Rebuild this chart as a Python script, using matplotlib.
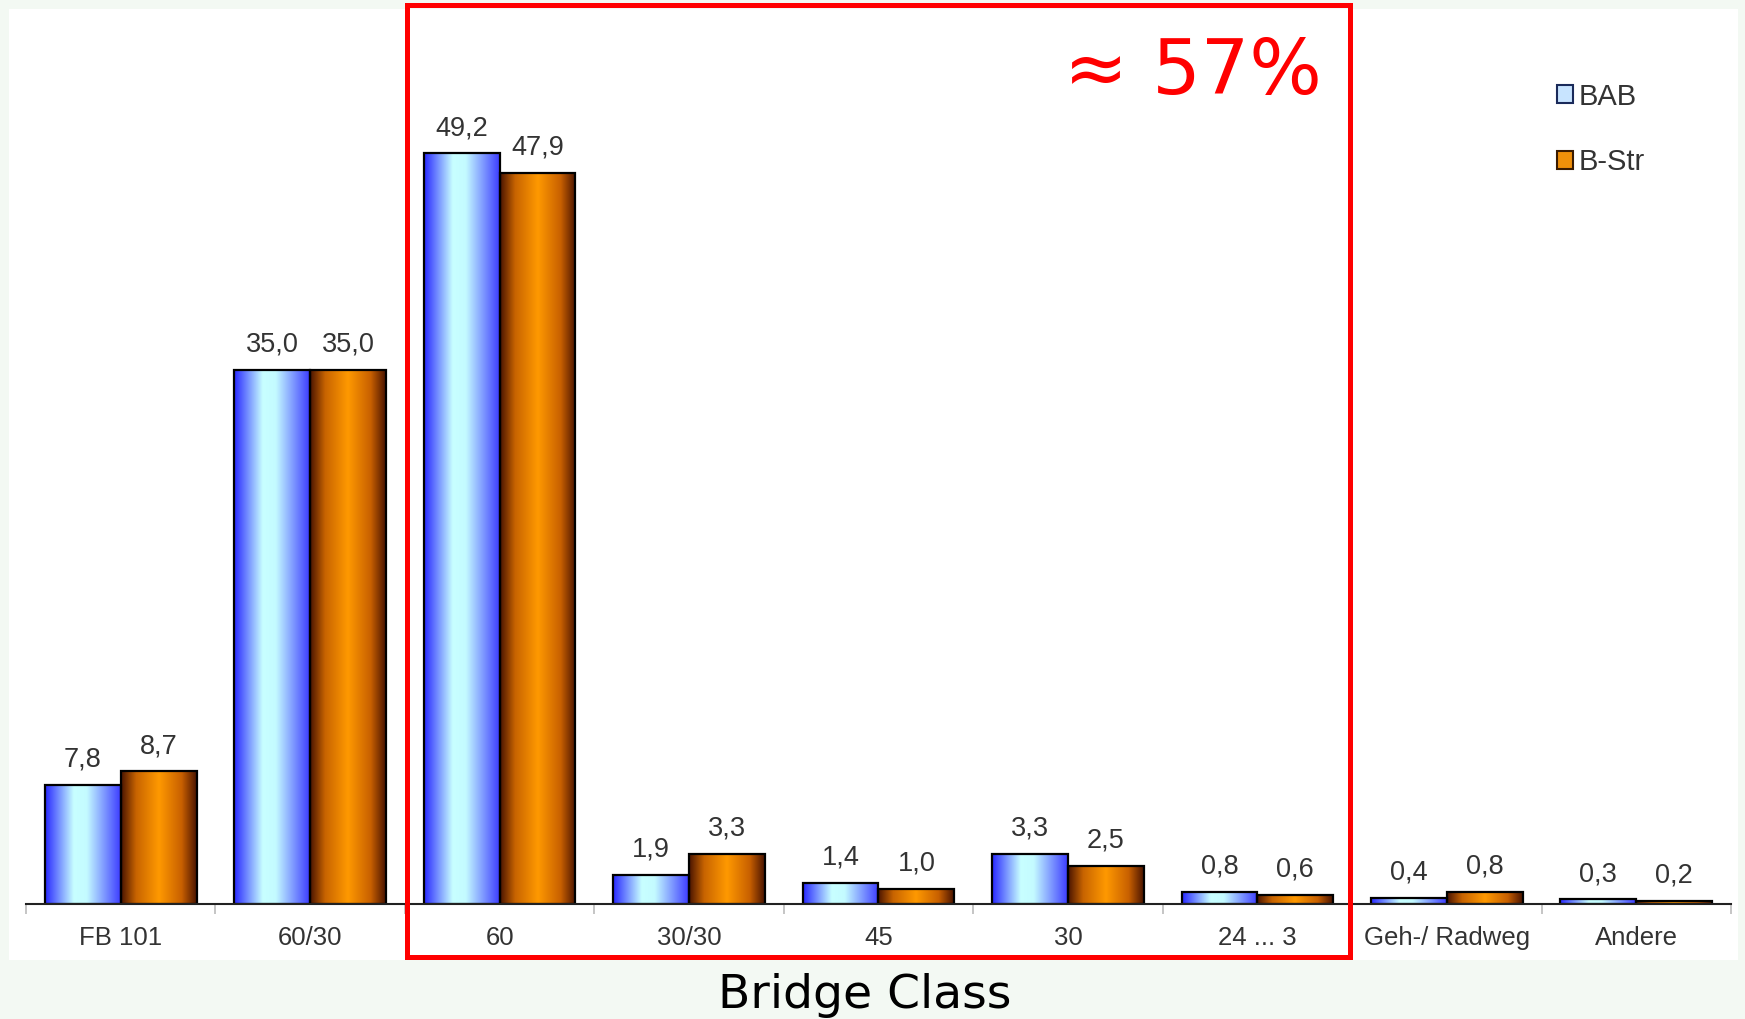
import numpy as np
import matplotlib.pyplot as plt
from matplotlib.colors import LinearSegmentedColormap
from matplotlib.patches import Patch, Rectangle

categories = ["FB 101", "60/30", "60", "30/30", "45", "30", "24 ... 3", "Geh-/ Radweg", "Andere"]
bab = [7.8, 35.0, 49.2, 1.9, 1.4, 3.3, 0.8, 0.4, 0.3]
bstr = [8.7, 35.0, 47.9, 3.3, 1.0, 2.5, 0.6, 0.8, 0.2]
series_names = ["BAB", "B-Str"]
share_text = "≈ 57%"
x_title = "Bridge Class"

W, H = 1745, 1019
BG = "#f3f9f3"
TEXT = "#333333"

# horizontal shading across each bar
blue_cmap = LinearSegmentedColormap.from_list(
    "blue_bar", [(0.0, "#2828ff"), (0.38, "#c8ffff"), (0.55, "#c4fbff"), (1.0, "#3c3cff")])
orange_cmap = LinearSegmentedColormap.from_list(
    "orange_bar", [(0.0, "#4a1400"), (0.2, "#c86400"), (0.5, "#ff9900"), (0.8, "#c86000"), (1.0, "#4a1400")])


def shade_bars(ax, bars, cmap):
    grad = cmap(np.linspace(0, 1, 256))[None, :, :3]
    for p in bars.patches:
        x0, w, h = p.get_x(), p.get_width(), p.get_height()
        ax.imshow(grad, extent=[x0, x0 + w, 0, h], aspect="auto",
                  interpolation="bilinear", zorder=2)


fig = plt.figure(figsize=(W / 100, H / 100), dpi=100, facecolor=BG)

# white slide panel
fig.patches.append(Rectangle((9 / W, 1 - 960 / H), (1738 - 9) / W, (960 - 9) / H,
                             transform=fig.transFigure, facecolor="white",
                             edgecolor="none", zorder=-5))

ax = fig.add_axes([26 / W, 1 - 904 / H, 1705 / W, (904 - 12) / H])
ax.patch.set_alpha(0)

x = np.arange(len(categories))
w = 0.40
b1 = ax.bar(x - w / 2, bab, w, facecolor="none", edgecolor="black", lw=1.6, zorder=3)
b2 = ax.bar(x + w / 2, bstr, w, facecolor="none", edgecolor="black", lw=1.6, zorder=3)
shade_bars(ax, b1, blue_cmap)
shade_bars(ax, b2, orange_cmap)

for bars in (b1, b2):
    for p in bars.patches:
        v = p.get_height()
        ax.annotate(f"{v:.1f}".replace(".", ","), (p.get_x() + p.get_width() / 2, v),
                    xytext=(0, 13), textcoords="offset points", ha="center",
                    va="baseline", fontsize=19.5, color=TEXT, family="Liberation Sans")

ax.set_xlim(-0.5, len(categories) - 0.5)
ax.set_ylim(0, (904 - 12) / 15.26)

for side in ("top", "right", "left"):
    ax.spines[side].set_visible(False)
ax.spines["bottom"].set_color("#222222")
ax.spines["bottom"].set_linewidth(1.5)
ax.spines["bottom"].set_zorder(4)
ax.set_yticks([])

ax.set_xticks(x)
ax.set_xticklabels(categories, fontsize=18.5, color=TEXT, family="Liberation Sans")
ax.tick_params(axis="x", which="major", length=0, pad=16)
ax.set_xticks(np.arange(-0.5, len(categories)), minor=True)
ax.tick_params(axis="x", which="minor", length=7, color="#bbbbbb", width=1.2)

handles = [Patch(facecolor="#c8e4ff", edgecolor="#1a2a5a", lw=1.5),
           Patch(facecolor="#f0900a", edgecolor="#3a1a00", lw=1.5)]
ax.legend(handles, series_names, loc="upper left", bbox_to_anchor=(1542 / W, 1 - 68 / H),
          bbox_transform=fig.transFigure, frameon=False, borderpad=0,
          handlelength=0.55, handleheight=0.55, handletextpad=0.2, labelspacing=1.3,
          prop={"family": "Liberation Sans", "size": 21}, labelcolor=TEXT)

# highlighted group of classes
fig.patches.append(Rectangle((407 / W, 1 - 957 / H), 943 / W, 952 / H,
                             transform=fig.transFigure, facecolor="none",
                             edgecolor="#ff0000", lw=3.6, zorder=10))
fig.text(1322 / W, 1 - 94 / H, share_text, ha="right", va="baseline",
         fontsize=55, color="#ff0000", family="DejaVu Sans")

fig.text(865 / W, 1 - 1008 / H, x_title, ha="center", va="baseline",
         fontsize=34, color="black", family="DejaVu Sans")

fig.savefig("out.png", dpi=100, facecolor=BG)
